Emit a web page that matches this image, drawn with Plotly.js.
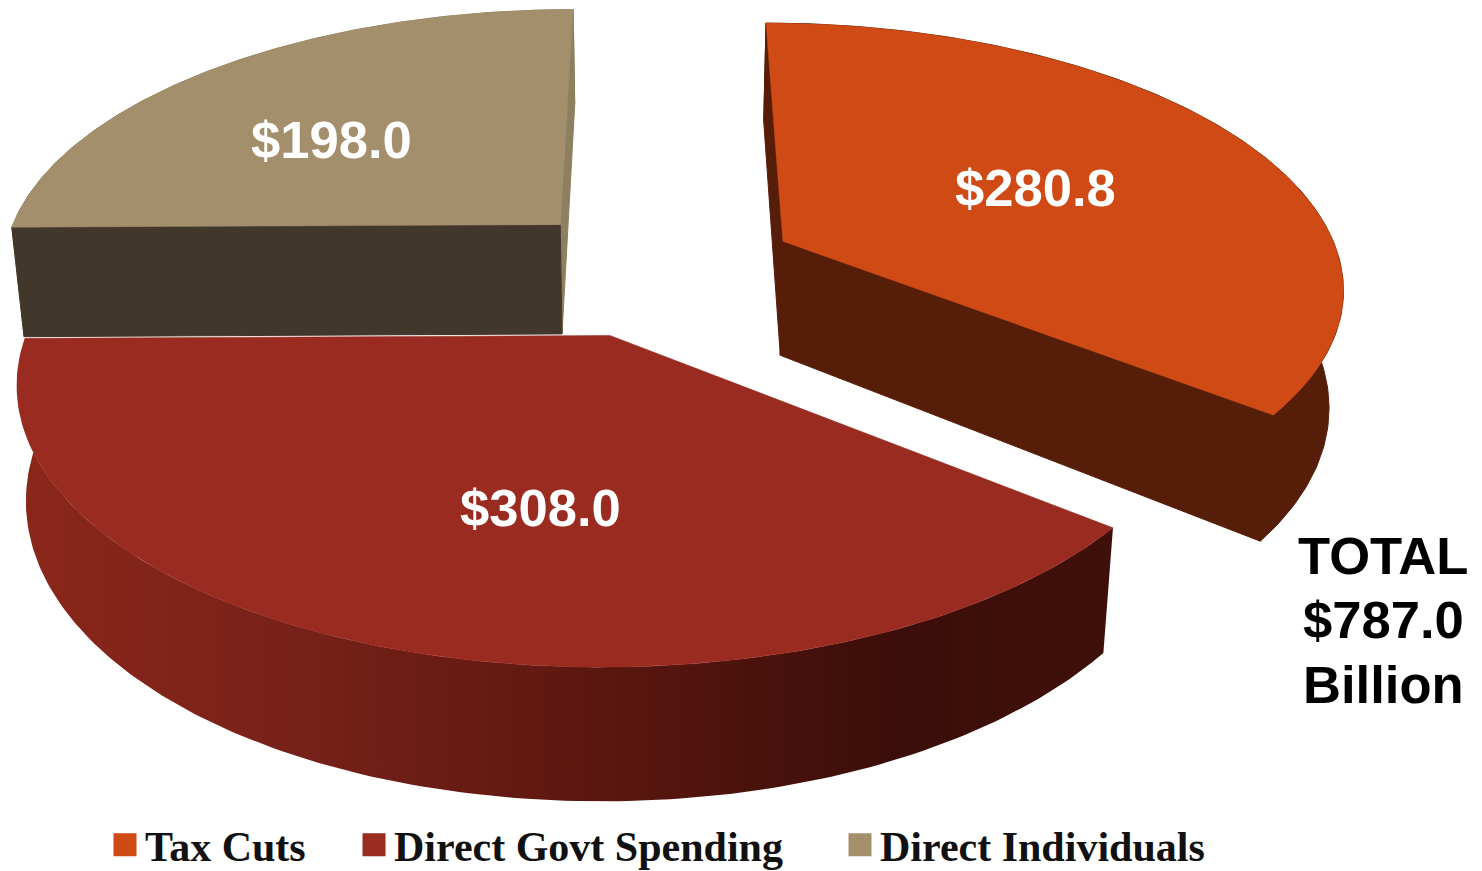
<!DOCTYPE html>
<html><head><meta charset="utf-8">
<script src="https://cdn.plot.ly/plotly-3.0.1.min.js"></script>
<style>
html,body{margin:0;padding:0;background:#fff;overflow:hidden}
.legendpoints path.scatterpts{stroke-width:7px !important}
</style></head><body>
<div id="chart" style="width:1482px;height:871px"></div>
<script>
// ---- data ----
const categories = ['Tax Cuts', 'Direct Govt Spending', 'Direct Individuals'];
const values = [280.8, 308.0, 198.0];
const totalLines = ['TOTAL', '$787.0', 'Billion'];

// ---- styles ----
const topColors = ['#d04a15', '#9a2b20', '#a38f6b'];
const startWall = ['#561e08', '#3c0f09', '#41372a'];
const endWall = ['#561e08', '#3c0f09', '#8e7f5f'];
const rimFill = ['#561e08', null, '#8e7f5f'];
const redRimScale = [[0, '#8a2719'], [0.25, '#78211a'], [0.5, '#5e1810'], [0.8, '#3c0e09'], [1, '#3f100a']];

// ---- perspective model of the exploded disc ----
const VX = 657, VY = -1383, A = 3634, B = 10620, C = 0.021;
const leftC = [0.021, 0.014, 0.019];
const wallH = [745, 695, 722];
const offsetX = [0.2266, -0.08, -0.176];
const depth = [6.538, 6.18, 6.606];
const radiusX = [0.99, 0.993, 0.995];
const radiusY = [1.015, 1.0, 1.02];
const labelX = [1035, 540, 331], labelY = [187, 507, 139];
const legendX = [105, 354, 840];
const totalY = [555, 619, 684];

function project(i, X, Y, low) {
  const s = depth[i] + Y * radiusY[i], wx = offsetX[i] + X * radiusX[i];
  const x = VX + A * wx / s, y = VY + B / s;
  const c = x < VX ? leftC[i] : C;
  return low ? [x - (x - VX) * c, y + wallH[i] / s] : [x, y];
}
const total = values.reduce((a, b) => a + b, 0);
const ranges = [];
let angle = 90;
values.forEach(v => { const next = angle - v / total * 360; ranges.push([angle, next]); angle = next; });

function arc(i, low, reverse) {
  const [a0, a1] = ranges[i], pts = [], n = 160;
  for (let k = 0; k <= n; k++) {
    const t = (a0 + (a1 - a0) * k / n) * Math.PI / 180;
    pts.push(project(i, Math.cos(t), Math.sin(t), low));
  }
  return reverse ? pts.reverse() : pts;
}
function poly(pts, color, extra, lw) {
  const xs = pts.map(p => p[0]).concat(pts[0][0]);
  const ys = pts.map(p => p[1]).concat(pts[0][1]);
  return Object.assign({type: 'scatter', mode: 'lines', x: xs, y: ys, fill: 'toself', fillcolor: color,
    line: {width: lw || 0, color: color}, hoverinfo: 'skip', showlegend: false}, extra || {});
}
function radial(i, which, color) {
  const t = ranges[i][which] * Math.PI / 180;
  const cx = Math.cos(t), cy = Math.sin(t);
  return poly([project(i, 0, 0, false), project(i, cx, cy, false), project(i, cx, cy, true), project(i, 0, 0, true)], color, null, 1);
}
function rim(i) {
  const pts = arc(i, false, false).concat(arc(i, true, true));
  if (i === 1) {
    return poly(pts, '#5e1810', {fillgradient: {type: 'horizontal', colorscale: redRimScale, start: 20, stop: 1112}});
  }
  return poly(pts, rimFill[i], null, 1);
}
function topFace(i) {
  return poly([project(i, 0, 0, false)].concat(arc(i, false, false)), topColors[i], null, 0.5);
}

const traces = [
  rim(2), radial(2, 1, endWall[2]), radial(2, 0, startWall[2]), topFace(2),
  rim(1), topFace(1),
  rim(0), radial(0, 0, startWall[0]), radial(0, 1, endWall[0]), topFace(0)
];
categories.forEach((name, i) => traces.push({
  type: 'scatter', mode: 'markers', x: [null], y: [null], name: name,
  marker: {symbol: 'square', size: 16, color: topColors[i], line: {width: 5, color: topColors[i]}},
  legend: i === 0 ? 'legend' : 'legend' + (i + 1), showlegend: true, hoverinfo: 'skip'
}));

const labelFont = {family: '"Liberation Sans", Arial, sans-serif', size: 52.6, color: '#fff', weight: 700};
const annotations = values.map((v, i) => ({
  text: '$' + v.toFixed(1), x: labelX[i], y: labelY[i], xref: 'x', yref: 'y', showarrow: false,
  font: labelFont, xanchor: 'center', yanchor: 'middle'
}));
totalLines.forEach((t, i) => annotations.push({
  text: t, x: 1383, y: totalY[i], xref: 'x', yref: 'y', showarrow: false,
  font: {family: '"Liberation Sans", Arial, sans-serif', size: 52.6, color: '#000', weight: 700},
  xanchor: 'center', yanchor: 'middle'
}));
function legendBox(i) {
  return {x: legendX[i] / 1482, y: 1 - 845 / 871, xanchor: 'left', yanchor: 'middle', orientation: 'h',
    bgcolor: 'rgba(0,0,0,0)', borderwidth: 0, itemsizing: 'trace', itemclick: false, itemdoubleclick: false,
    font: {family: '"Liberation Serif", Georgia, serif', size: 42, color: '#111', weight: 700}};
}
const layout = {
  width: 1482, height: 871, margin: {l: 0, r: 0, t: 0, b: 0, autoexpand: false},
  paper_bgcolor: '#fff', plot_bgcolor: '#fff',
  xaxis: {range: [0, 1482], visible: false, fixedrange: true},
  yaxis: {range: [871, 0], visible: false, fixedrange: true},
  showlegend: true, legend: legendBox(0), legend2: legendBox(1), legend3: legendBox(2),
  annotations: annotations
};
Plotly.newPlot('chart', traces, layout, {displayModeBar: false, staticPlot: true});
</script></body></html>
